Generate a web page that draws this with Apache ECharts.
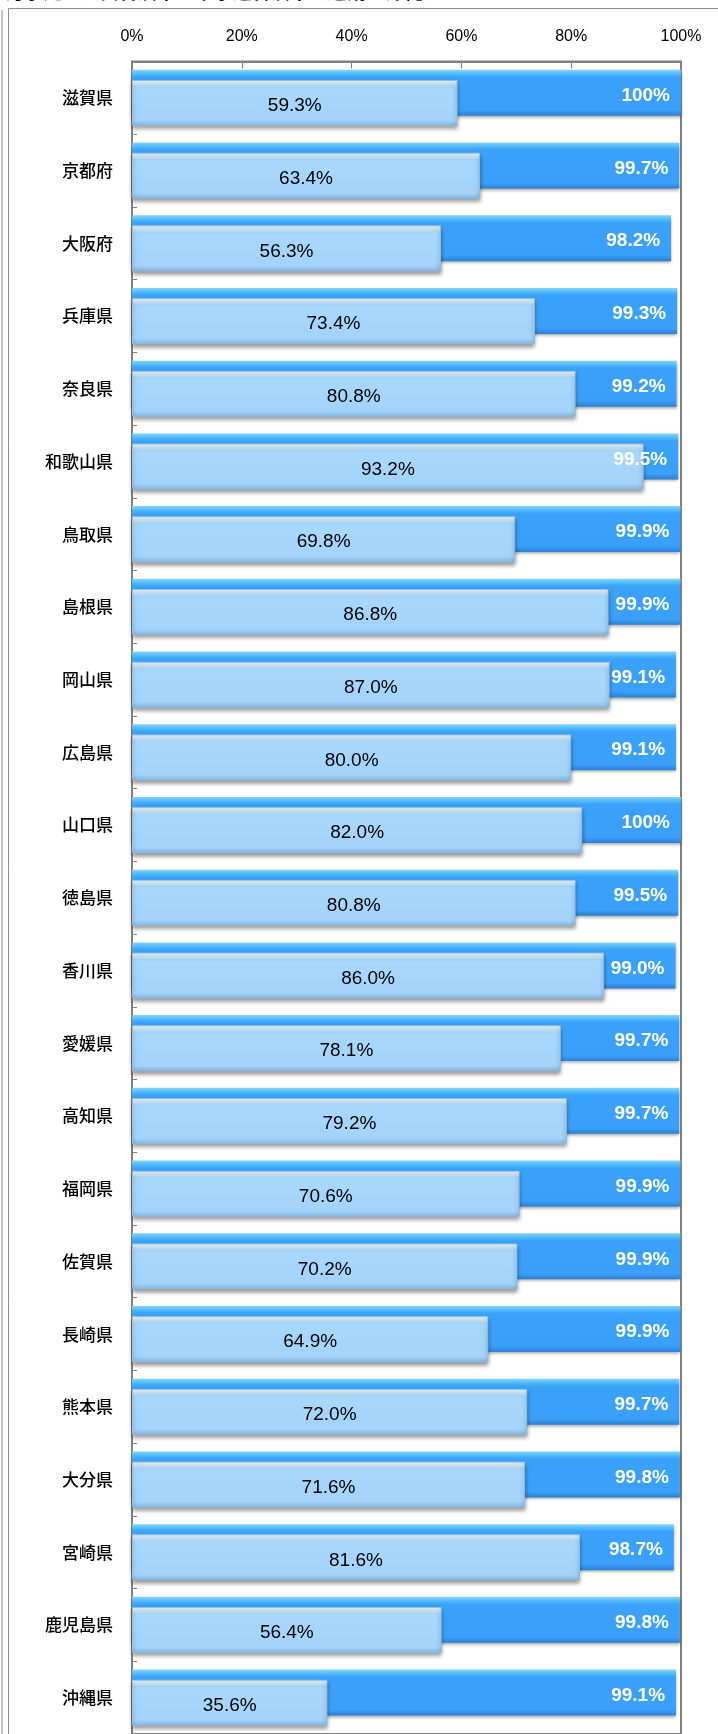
<!DOCTYPE html>
<html>
<head>
<meta charset="utf-8">
<script src="https://cdn.jsdelivr.net/npm/echarts@6/dist/echarts.min.js"></script>
<style>
html,body{margin:0;padding:0;background:#fff;}
#main{width:718px;height:1734px;}
</style>
</head>
<body>
<div id="main"></div>
<script>
// prefectures, top to bottom
var prefList = ['滋賀県','京都府','大阪府','兵庫県','奈良県','和歌山県','鳥取県','島根県','岡山県','広島県','山口県','徳島県','香川県','愛媛県','高知県','福岡県','佐賀県','長崎県','熊本県','大分県','宮崎県','鹿児島県','沖縄県'];
// dark blue bars
var rateA = [100, 99.7, 98.2, 99.3, 99.2, 99.5, 99.9, 99.9, 99.1, 99.1, 100, 99.5, 99.0, 99.7, 99.7, 99.9, 99.9, 99.9, 99.7, 99.8, 98.7, 99.8, 99.1];
// light blue bars
var rateB = [59.3, 63.4, 56.3, 73.4, 80.8, 93.2, 69.8, 86.8, 87.0, 80.0, 82.0, 80.8, 86.0, 78.1, 79.2, 70.6, 70.2, 64.9, 72.0, 71.6, 81.6, 56.4, 35.6];
var xTicks = [0, 20, 40, 60, 80, 100];

var labelFont = '"Liberation Sans", Arial, sans-serif';
var jpFont = '"Noto Sans CJK JP", "Noto Sans", sans-serif';

var myChart = echarts.init(document.getElementById('main'));

var darkColor = new echarts.graphic.LinearGradient(0, 0, 0, 1, [
	{offset: 0, color: '#86d4fb'},
	{offset: 0.08, color: '#55bdf8'},
	{offset: 0.16, color: '#3aa2fb'},
	{offset: 0.88, color: '#3a9ff8'},
	{offset: 1, color: '#2a80d2'}
]);
var lightColor = new echarts.graphic.LinearGradient(0, 0, 0, 1, [
	{offset: 0, color: '#eef9ff'},
	{offset: 0.1, color: '#cdeafd'},
	{offset: 0.15, color: '#a8d8fc'},
	{offset: 0.88, color: '#a3d3fa'},
	{offset: 1, color: '#84b6e0'}
]);

function darkLabel(p){
	return p.value == 100 ? '100%' : p.value.toFixed(1) + '%';
}

// the second y axis only carries transparent copies of the bars,
// so the white labels of the dark bars sit above the light bars
var option = {
	animation: false,
	title: {
		text: '汚水処理人口普及率・下水道普及率（近畿～沖縄）',
		left: 0,
		top: -22.5,
		textStyle: {fontSize: 19, fontWeight: 'bold', color: '#000', fontFamily: jpFont}
	},
	graphic: [
		{type: 'line', shape: {x1: 2, y1: 10, x2: 2, y2: 1734}, style: {stroke: '#8c8c8c', lineWidth: 1}},
		{type: 'rect', shape: {x: 8.5, y: 8.5, width: 720, height: 1740}, style: {fill: 'none', stroke: '#8c8c8c', lineWidth: 1}}
	],
	grid: {
		left: 132,
		top: 61.5,
		width: 549,
		height: 1674,
		show: true,
		borderColor: '#808080',
		borderWidth: 2,
		containLabel: false
	},
	xAxis: {
		type: 'value',
		position: 'top',
		min: 0,
		max: 100,
		interval: 20,
		axisLine: {show: true, lineStyle: {color: '#808080', width: 2}},
		axisTick: {show: true, inside: true, length: 7, lineStyle: {color: '#808080'}},
		splitLine: {show: false},
		axisLabel: {
			formatter: function(v){ return v + '%'; },
			fontSize: 16,
			color: '#000',
			fontFamily: labelFont,
			margin: 17
		}
	},
	yAxis: [{
		type: 'category',
		inverse: true,
		data: prefList,
		axisLine: {show: true, lineStyle: {color: '#808080', width: 2}},
		axisTick: {show: true, inside: true, length: 5, lineStyle: {color: '#808080'}},
		axisLabel: {fontSize: 17, fontWeight: 500, color: '#000', fontFamily: jpFont, margin: 19}
	}, {
		type: 'category',
		inverse: true,
		position: 'left',
		data: prefList,
		show: false
	}],
	series: [
		{
			name: '汚水処理人口普及率',
			type: 'bar',
			data: rateA,
			barWidth: 46,
			barGap: '-78%',
			itemStyle: {
				color: darkColor,
				shadowColor: 'rgba(0,0,0,0.35)',
				shadowBlur: 3,
				shadowOffsetY: 2
			},
			z: 2
		},
		{
			name: '下水道普及率',
			type: 'bar',
			data: rateB,
			barWidth: 46,
			itemStyle: {
				color: lightColor,
				borderColor: '#8fbde2',
				borderWidth: 1,
				shadowColor: 'rgba(0,0,0,0.4)',
				shadowBlur: 4,
				shadowOffsetY: 3
			},
			label: {
				show: true,
				position: 'inside',
				offset: [0, 3],
				formatter: function(p){ return p.value.toFixed(1) + '%'; },
				color: '#000',
				fontSize: 19,
				fontFamily: labelFont
			},
			z: 3
		},
		{
			name: 'labelA',
			type: 'bar',
			yAxisIndex: 1,
			data: rateA,
			barWidth: 46,
			barGap: '-78%',
			itemStyle: {color: 'rgba(0,0,0,0)'},
			label: {
				show: true,
				position: 'insideRight',
				distance: 11,
				offset: [0, 3],
				formatter: darkLabel,
				color: '#fff',
				fontWeight: 'bold',
				fontSize: 19,
				fontFamily: labelFont
			},
			silent: true,
			z: 5
		},
		{
			name: 'labelB',
			type: 'bar',
			yAxisIndex: 1,
			data: rateB,
			barWidth: 46,
			itemStyle: {color: 'rgba(0,0,0,0)'},
			silent: true,
			z: 5
		}
	]
};
myChart.setOption(option);
</script>
</body>
</html>
